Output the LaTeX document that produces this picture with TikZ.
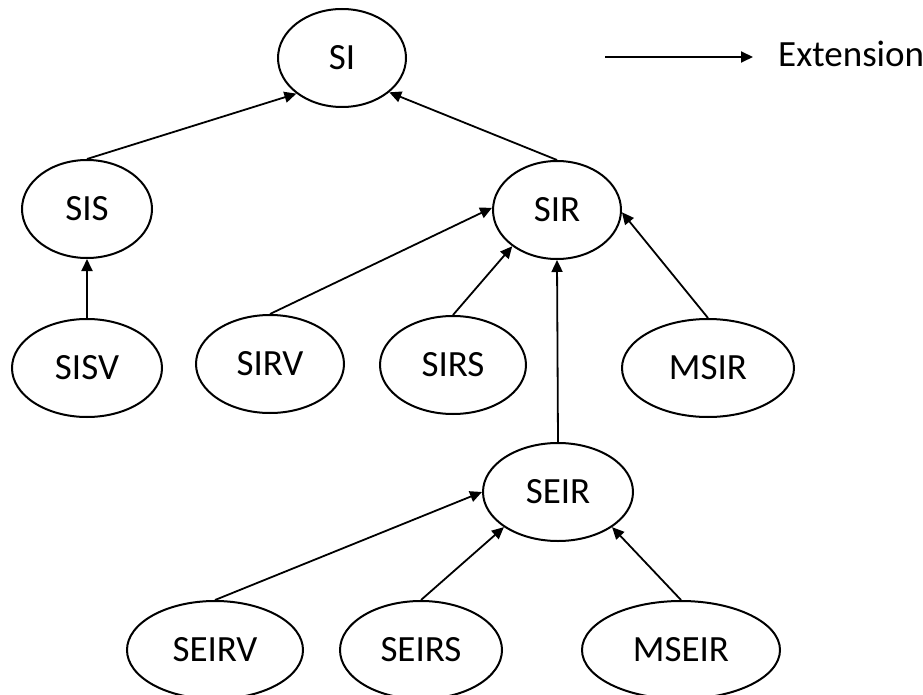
\documentclass[tikz,border=0pt]{standalone}
\usepackage{fontspec}
\setmainfont{Carlito}
\usetikzlibrary{shapes.geometric,arrows.meta,positioning}

\tikzset{
  model/.style={ellipse, draw, line width=2pt, inner sep=0pt,
    minimum height=98pt, font=\fontsize{37}{41}\selectfont},
  ext/.style={line width=1.8pt, -{Triangle[length=12pt,width=11pt]}}
}

\begin{document}
\begin{tikzpicture}[x=1pt,y=-1pt]
	  \useasboundingbox (0,0) rectangle (923,695);

	  % models
	  \node[model, minimum width=128pt] (si) at (342,58) {SI};
	  \node[model, minimum width=130pt] (sis) at (87,209) {SIS};
	  \node[model, minimum width=128pt] (sir) at (557,210) {SIR};
	  \node[model, minimum width=150pt] (sisv) at (87,368) {SISV};
	  \node[model, minimum width=148pt] (sirv) at (270,364) {SIRV};
	  \node[model, minimum width=146pt] (sirs) at (453,365) {SIRS};
	  \node[model, minimum width=172pt] (msir) at (708,368) {MSIR};
	  \node[model, minimum width=150pt] (seir) at (558,492) {SEIR};
	  \node[model, minimum width=176pt] (seirv) at (215,650) {SEIRV};
	  \node[model, minimum width=162pt] (seirs) at (421,650) {SEIRS};
	  \node[model, minimum width=198pt] (mseir) at (681,650) {MSEIR};

	  % extensions
	  \draw[ext] (sis.north) -- (si.218);
	  \draw[ext] (sir.north) -- (si.324);
	  \draw[ext] (sisv.north) -- (sis.south);
	  \draw[ext] (sirv.north) -- (sir.178);
	  \draw[ext] (sirs.north) -- (sir.219);
	  \draw[ext] (msir.north) -- (sir.358);
	  \draw[ext] (seir.north) -- (sir.south);
	  \draw[ext] (seirv.north) -- (seir.180);
	  \draw[ext] (seirs.north) -- (seir.213);
	  \draw[ext] (mseir.north) -- (seir.327);

	  % legend
	  \coordinate (legA) at (605,57);
	  \coordinate (legB) at (753,57);
	  \draw[ext] (legA) -- (legB);
	  \node[right=25pt of legB, yshift=3pt, inner sep=0pt,
	    font=\fontsize{37}{41}\selectfont] (legtext) {Extension};
	\end{tikzpicture}
\end{document}
